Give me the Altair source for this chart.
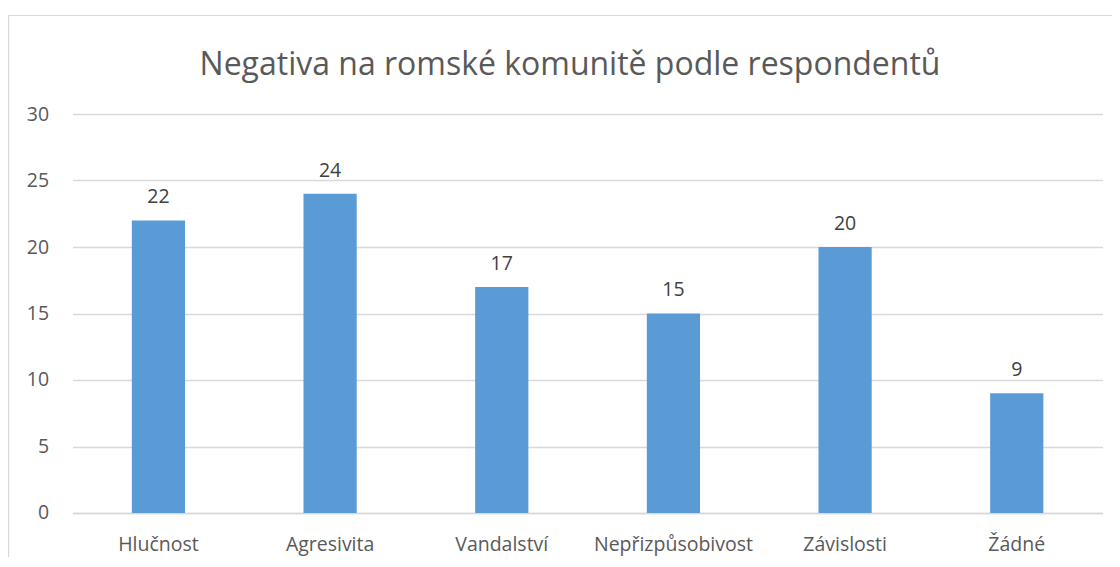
import altair as alt
import pandas as pd

categories = ["Hlučnost", "Agresivita", "Vandalství", "Nepřizpůsobivost", "Závislosti", "Žádné"]
values = [22, 24, 17, 15, 20, 9]
y_ticks = [0, 5, 10, 15, 20, 25, 30]
title_text = "Negativa na romské komunitě podle respondentů"

df = pd.DataFrame({"kategorie": categories, "pocet": values})

FONT = "Open Sans"
W, H = 1030, 399

x_enc = alt.X("kategorie:N", sort=categories, title=None,
              scale=alt.Scale(paddingInner=0.69, paddingOuter=0.345),
              axis=alt.Axis(labelAngle=0, labelFontSize=19.5, labelColor="#595959",
                            labelFont=FONT, labelPadding=38, labelBaseline="alphabetic",
                            ticks=False, grid=False, domainColor="#d9d9d9", domainWidth=1.3))
y_enc = alt.Y("pocet:Q", title=None,
              scale=alt.Scale(domain=[0, 30], nice=False),
              axis=alt.Axis(values=y_ticks, labelFontSize=19.5, labelColor="#595959",
                            labelFont=FONT, labelPadding=24, ticks=False, domain=False,
                            gridColor="#d9d9d9", gridWidth=1.3))

base = alt.Chart(df)

frame = alt.Chart(pd.DataFrame({"a": [0]})).mark_rect(
    fill=None, stroke="#d9d9d9", strokeWidth=1.2, clip=False
).encode(x=alt.value(-64), x2=alt.value(1200), y=alt.value(-98.5), y2=alt.value(700))

bars = base.mark_bar(color="#5B9BD5").encode(x=x_enc, y=y_enc)

labels = base.mark_text(baseline="alphabetic", dy=-17, fontSize=19.5, color="#404040", font=FONT).encode(
    x=alt.X("kategorie:N", sort=categories),
    y=alt.Y("pocet:Q"),
    text=alt.Text("pocet:Q"),
)

title = alt.Chart(pd.DataFrame({"t": [title_text]})).mark_text(
    fontSize=32, color="#595959", font=FONT, baseline="alphabetic", align="center", clip=False
).encode(x=alt.value(497.4), y=alt.value(-39), text="t:N")

chart = alt.layer(frame, bars, labels, title).properties(
    width=W, height=H,
    background="white",
    autosize=alt.AutoSizeParams(type="none"),
    padding={"left": 64.6, "top": 106, "right": 9, "bottom": 44},
).configure_view(stroke="transparent", strokeWidth=0)

chart.save("out.html", embed_options={"renderer": "svg", "actions": False})
